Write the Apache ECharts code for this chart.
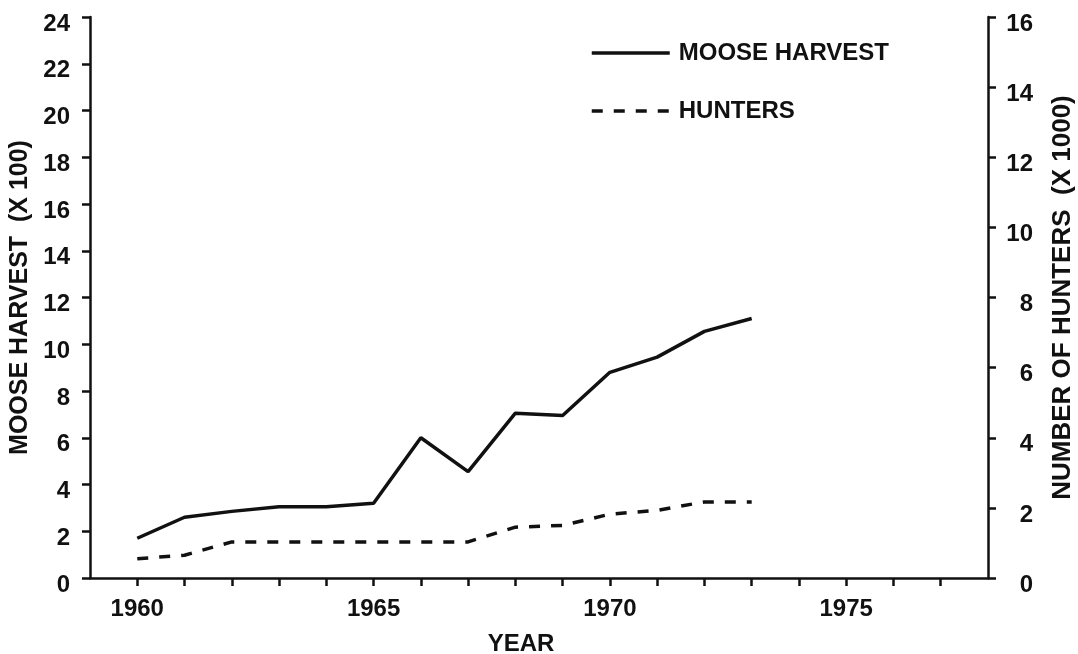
<!DOCTYPE html>
<html>
<head>
<meta charset="utf-8">
<script src="https://cdn.jsdelivr.net/npm/echarts@6/dist/echarts.min.js"></script>
<style>
html,body{margin:0;padding:0;background:#fff;}
#chart{width:1078px;height:654px;}
</style>
</head>
<body>
<div id="chart"></div>
<script>
// ---- data ----
var years = [1960,1961,1962,1963,1964,1965,1966,1967,1968,1969,1970,1971,1972,1973];
var mooseHarvest = [1.7,2.6,2.85,3.05,3.05,3.2,6.0,4.55,7.05,6.95,8.8,9.45,10.55,11.1]; // x 100
var hunters = [0.55,0.65,1.03,1.03,1.03,1.03,1.03,1.03,1.45,1.5,1.82,1.93,2.17,2.17];   // x 1000
var xTickValues = [1960,1961,1962,1963,1964,1965,1966,1967,1968,1969,1970,1971,1972,1973,1974,1975,1976,1977];
var xLabelValues = [1960,1965,1970,1975];
var seriesNames = ['MOOSE HARVEST','HUNTERS'];

function pairs(xs, ys){ return xs.map(function(x,i){ return [x, ys[i]]; }); }

var FONT = '"Liberation Sans", Arial, Helvetica, sans-serif';
var INK = '#111';

var chart = echarts.init(document.getElementById('chart'), null, {renderer:'canvas'});
chart.setOption({
  backgroundColor:'#fff',
  animation:false,
  grid:{left:90, right:90, top:17, bottom:76, containLabel:false, outerBoundsMode:'none'},
  legend:{
    orient:'vertical', left:585, top:36,
    itemWidth:78, itemHeight:24, itemGap:34,
    itemStyle:{opacity:0},
    lineStyle:{width:3.5},
    textStyle:{fontFamily:FONT, fontWeight:'bold', fontSize:24, color:INK, padding:[4,0,0,4]},
    data:seriesNames
  },
  xAxis:{
    type:'value', min:1959, max:1978,
    name:'YEAR', nameLocation:'middle', nameGap:54,
    nameTextStyle:{fontFamily:FONT, fontWeight:'bold', fontSize:24, color:INK, padding:[0,36,0,0]},
    axisLine:{lineStyle:{color:INK, width:2.5}},
    axisTick:{show:true, length:8, lineStyle:{color:INK, width:2.5}, customValues:xTickValues},
    axisLabel:{fontFamily:FONT, fontWeight:'bold', fontSize:24, color:INK, margin:19, customValues:xLabelValues,
      formatter:function(v){ return String(v); }},
    splitLine:{show:false}
  },
  yAxis:[{
    type:'value', min:0, max:24, interval:2, position:'left',
    name:'MOOSE HARVEST  (X 100)', nameLocation:'middle', nameGap:52, nameRotate:90,
    nameTextStyle:{fontFamily:FONT, fontWeight:'bold', fontSize:25, color:INK},
    axisLine:{show:true, lineStyle:{color:INK, width:2.5}},
    axisTick:{show:true, length:8, lineStyle:{color:INK, width:2.5}},
    axisLabel:{fontFamily:FONT, fontWeight:'bold', fontSize:24, color:INK, margin:20, verticalAlign:'top', lineHeight:14},
    splitLine:{show:false}
  },{
    type:'value', min:0, max:16, interval:2, position:'right',
    name:'NUMBER OF HUNTERS  (X 1000)', nameLocation:'middle', nameGap:62, nameRotate:90,
    nameTextStyle:{fontFamily:FONT, fontWeight:'bold', fontSize:26, color:INK},
    axisLine:{show:true, lineStyle:{color:INK, width:2.5}},
    axisTick:{show:true, length:8, lineStyle:{color:INK, width:2.5}},
    axisLabel:{fontFamily:FONT, fontWeight:'bold', fontSize:24, color:INK, margin:45, align:'right', verticalAlign:'top', lineHeight:14},
    splitLine:{show:false}
  }],
  series:[{
    name:seriesNames[0], type:'line', yAxisIndex:0,
    data:pairs(years, mooseHarvest),
    showSymbol:false, symbol:'none', smooth:false,
    lineStyle:{color:INK, width:3.5, type:'solid'},
    itemStyle:{color:INK}
  },{
    name:seriesNames[1], type:'line', yAxisIndex:1,
    data:pairs(years, hunters),
    showSymbol:false, symbol:'none', smooth:false,
    lineStyle:{color:INK, width:3.5, type:[11,11]},
    itemStyle:{color:INK}
  }]
});
</script>
</body>
</html>
